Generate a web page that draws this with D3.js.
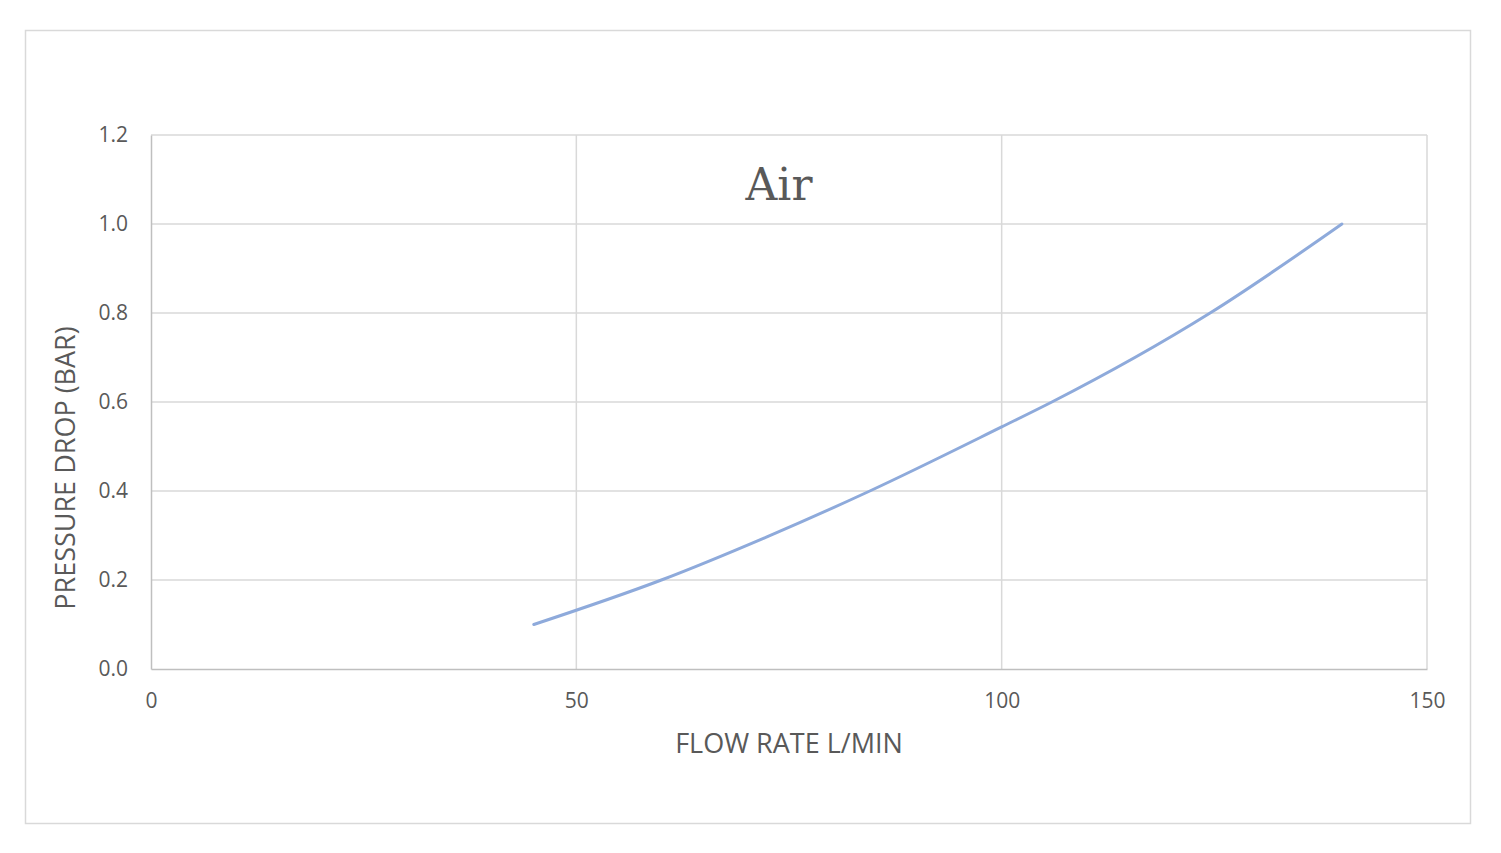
<!DOCTYPE html>
<html>
<head>
<meta charset="utf-8">
<script src="https://cdn.jsdelivr.net/npm/d3@7"></script>
<style>
  body { margin: 0; background: #fff; }
  svg { display: block; }
</style>
</head>
<body>
<svg width="1501" height="853"></svg>
<script>
// values
const flowRate = [45, 60, 72.4, 84.5, 100, 105.9, 124.5, 140];
const pressureDrop = [0.1, 0.2, 0.297, 0.4, 0.544, 0.6, 0.8, 1.0];
const xTicks = [0, 50, 100, 150];
const yTicks = [0, 0.2, 0.4, 0.6, 0.8, 1.0, 1.2];
const chartTitle = "Air";
const xTitle = "FLOW RATE L/MIN";
const yTitle = "PRESSURE DROP (BAR)";

const data = flowRate.map((f, i) => ({x: f, y: pressureDrop[i]}));

const margin = {top: 135, right: 74, bottom: 184, left: 151},
    plotWidth = 1501 - margin.left - margin.right,
    plotHeight = 853 - margin.top - margin.bottom;

const svg = d3.select("svg");

// outer chart border
svg.append("rect")
    .attr("x", 25.5).attr("y", 30.5)
    .attr("width", 1445).attr("height", 793)
    .attr("fill", "#fff")
    .attr("stroke", "#d9d9d9")
    .attr("stroke-width", 1.5);

const g = svg.append("g")
    .attr("transform", `translate(${margin.left}, ${margin.top})`);

const x = d3.scaleLinear().domain([0, 150]).range([0, plotWidth]);
const y = d3.scaleLinear().domain([0, 1.2]).range([plotHeight, 0]);

// gridlines
g.append("g")
    .selectAll("line").data(yTicks.filter(d => d > 0))
    .enter().append("line")
    .attr("x1", 0).attr("x2", plotWidth)
    .attr("y1", d => y(d)).attr("y2", d => y(d))
    .attr("stroke", "#d9d9d9").attr("stroke-width", 1.5);

g.append("g")
    .selectAll("line").data(xTicks.filter(d => d > 0))
    .enter().append("line")
    .attr("x1", d => x(d)).attr("x2", d => x(d))
    .attr("y1", 0).attr("y2", plotHeight)
    .attr("stroke", "#d9d9d9").attr("stroke-width", 1.5);

// X axis
const xAxisCall = d3.axisBottom(x).tickValues(xTicks).tickSize(0).tickPadding(24);
const xAxis = g.append("g")
    .attr("transform", `translate(0, ${plotHeight})`)
    .call(xAxisCall);
xAxis.select(".domain").attr("stroke", "#bfbfbf").attr("stroke-width", 1.5);
xAxis.selectAll("text")
    .attr("font-family", "Open Sans")
    .attr("font-size", "21px")
    .attr("fill", "#595959");

// Y axis
const yAxisCall = d3.axisLeft(y).tickValues(yTicks).tickFormat(d3.format(".1f")).tickSize(0).tickPadding(23);
const yAxis = g.append("g").call(yAxisCall);
yAxis.select(".domain").attr("stroke", "#bfbfbf").attr("stroke-width", 1.5);
yAxis.selectAll("text")
    .attr("font-family", "Open Sans")
    .attr("font-size", "21px")
    .attr("fill", "#595959");

// curve
const line = d3.line()
    .x(d => x(d.x))
    .y(d => y(d.y))
    .curve(d3.curveMonotoneX);

g.append("path")
    .datum(data)
    .attr("d", line)
    .attr("fill", "none")
    .attr("stroke", "#8eaadb")
    .attr("stroke-width", 3)
    .attr("stroke-linecap", "round");

// title
g.append("text")
    .attr("x", 628)
    .attr("y", 65)
    .attr("text-anchor", "middle")
    .attr("font-family", "DejaVu Serif")
    .attr("font-size", "44px")
    .attr("fill", "#595959")
    .text(chartTitle);

// X label
g.append("text")
    .attr("x", plotWidth / 2)
    .attr("y", plotHeight + 84)
    .attr("text-anchor", "middle")
    .attr("font-family", "Open Sans")
    .attr("font-size", "27px")
    .attr("fill", "#595959")
    .text(xTitle);

// Y label
g.append("text")
    .attr("x", -(plotHeight / 2) - 66)
    .attr("y", -76)
    .attr("text-anchor", "middle")
    .attr("transform", "rotate(-90)")
    .attr("font-family", "Open Sans")
    .attr("font-size", "27px")
    .attr("fill", "#595959")
    .text(yTitle);
</script>
</body>
</html>
